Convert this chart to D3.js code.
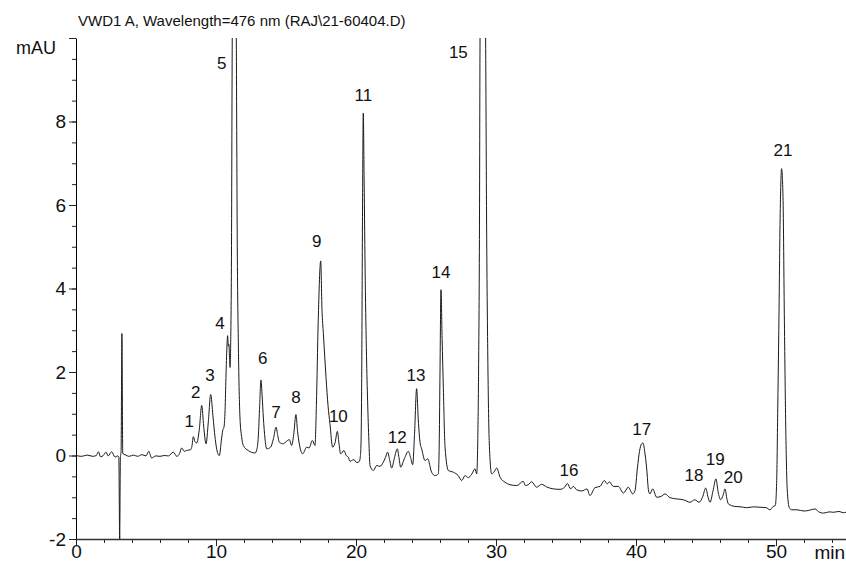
<!DOCTYPE html>
<html>
<head>
<meta charset="utf-8">
<script src="https://cdn.jsdelivr.net/npm/d3@7"></script>
<style>
body { margin: 0; background: #fff; }
text { font-family: "Liberation Sans", Arial, Helvetica, sans-serif; fill: #111; }
</style>
</head>
<body>
<svg width="846" height="564"></svg>
<script>
var title = "VWD1 A, Wavelength=476 nm (RAJ\\21-60404.D)";
var yUnit = "mAU", xUnit = "min";

var xMajor = [0, 10, 20, 30, 40, 50];
var yMajor = [-2, 0, 2, 4, 6, 8, 10];
var yLabelled = [-2, 0, 2, 4, 6, 8];

// peak numbers and where their labels sit (min, mAU)
var peakNo        = [1, 2, 3, 4, 5, 6, 7, 8, 9, 10, 11, 12, 13, 14, 15, 16, 17, 18, 19, 20, 21];
var peakLabelTime = [8.09, 8.55, 9.57, 10.29, 10.41, 13.34, 14.29, 15.71, 17.19, 18.74, 20.52, 22.95, 24.29, 26.07, 27.31, 35.21, 40.41, 44.14, 45.66, 46.95, 50.5];
var peakLabelMAU  = [0.83, 1.53, 1.93, 3.17, 9.41, 2.34, 1.04, 1.41, 5.14, 0.95, 8.63, 0.45, 1.93, 4.39, 9.67, -0.35, 0.63, -0.48, -0.08, -0.51, 7.32];

// detector trace: [time (min), signal (mAU)]
var trace = [
  [0.0, 0.0], [0.4, -0.02], [0.8, 0.01], [1.2, -0.02], [1.45, 0.0], [1.6, 0.09], [1.75, -0.03],
  [1.95, 0.0], [2.14, 0.08], [2.3, -0.01], [2.55, 0.09], [2.79, -0.04], [2.95, -0.01], [3.06, -0.04],
  [3.12, -2.0], [3.17, -0.05], [3.22, 0.1], [3.28, 2.92], [3.34, 0.05], [3.5, 0.02], [3.8, -0.02],
  [4.1, 0.01], [4.4, -0.02], [4.7, 0.02], [5.0, -0.01], [5.2, 0.1], [5.4, -0.06], [5.7, -0.01],
  [6.0, -0.02], [6.3, 0.0], [6.6, -0.01], [6.95, 0.08], [7.2, -0.02], [7.4, 0.05], [7.55, 0.18],
  [7.75, 0.1], [7.9, 0.12], [8.19, 0.14], [8.28, 0.22], [8.38, 0.45], [8.5, 0.33], [8.62, 0.3],
  [8.8, 0.6], [8.98, 1.2], [9.12, 0.7], [9.29, 0.28], [9.45, 0.8], [9.62, 1.46], [9.78, 0.95],
  [9.93, 0.44], [10.1, 0.08], [10.24, 0.0], [10.38, 0.35], [10.48, 0.6], [10.57, 0.68], [10.65, 1.1],
  [10.71, 1.87], [10.78, 2.6], [10.83, 2.87], [10.88, 2.62], [10.92, 2.66], [10.97, 2.3], [11.0, 2.11],
  [11.05, 2.7], [11.1, 4.5], [11.16, 10.0], [11.3, 15.0], [11.45, 10.0], [11.52, 5.0], [11.6, 2.6],
  [11.71, 0.92], [11.83, 0.45], [11.95, 0.24], [12.3, 0.12], [12.79, 0.06], [12.92, 0.15], [13.02, 0.44],
  [13.12, 1.2], [13.21, 1.81], [13.3, 1.4], [13.38, 0.92], [13.5, 0.4], [13.62, 0.16], [13.9, 0.2],
  [14.1, 0.4], [14.29, 0.68], [14.4, 0.5], [14.52, 0.32], [14.81, 0.28], [15.0, 0.33], [15.24, 0.38],
  [15.4, 0.24], [15.55, 0.5], [15.71, 0.98], [15.82, 0.6], [15.95, 0.28], [16.19, 0.04], [16.48, 0.2],
  [16.65, 0.18], [16.88, 0.36], [17.07, 0.24], [17.17, 1.2], [17.3, 3.2], [17.48, 4.66], [17.57, 3.5],
  [17.67, 2.92], [17.86, 1.87], [18.0, 1.2], [18.14, 0.76], [18.33, 0.2], [18.5, 0.3], [18.67, 0.58],
  [18.78, 0.3], [18.9, 0.04], [19.14, 0.12], [19.3, 0.0], [19.45, -0.04], [19.57, -0.14], [19.69, -0.12],
  [19.85, -0.1], [20.05, -0.17], [20.24, -0.14], [20.31, -0.02], [20.36, 0.3], [20.41, 2.0], [20.46, 5.5],
  [20.52, 8.2], [20.58, 6.6], [20.66, 4.2], [20.75, 2.4], [20.83, 1.3], [20.92, 0.35], [21.0, -0.24],
  [21.24, -0.36], [21.48, -0.24], [21.71, -0.26], [21.95, -0.16], [22.1, -0.05], [22.26, 0.08], [22.4, -0.1],
  [22.55, -0.3], [22.75, -0.05], [22.95, 0.16], [23.07, -0.05], [23.19, -0.28], [23.45, -0.08], [23.74, 0.1],
  [23.9, -0.05], [24.05, -0.22], [24.18, 0.5], [24.33, 1.6], [24.45, 0.85], [24.58, 0.3], [24.69, 0.16],
  [24.93, -0.12], [25.12, -0.08], [25.4, -0.4], [25.64, -0.48], [25.88, -0.44], [25.95, 0.4], [26.0, 2.0],
  [26.07, 3.97], [26.15, 2.8], [26.24, 1.6], [26.36, 0.2], [26.6, -0.36], [26.95, -0.4], [27.3, -0.48],
  [27.55, -0.6], [27.79, -0.48], [28.02, -0.53], [28.26, -0.45], [28.5, -0.32], [28.62, -0.44], [28.7, 0.4],
  [28.76, 2.2], [28.82, 5.5], [28.86, 10.0], [29.06, 16.0], [29.26, 10.0], [29.33, 5.5], [29.42, 2.2],
  [29.52, 0.3], [29.69, -0.44], [29.85, -0.4], [30.05, -0.3], [30.29, -0.52], [30.64, -0.64], [31.0, -0.7],
  [31.48, -0.72], [31.95, -0.62], [32.1, -0.72], [32.3, -0.7], [32.55, -0.63], [32.9, -0.76], [33.26, -0.69],
  [33.6, -0.75], [34.1, -0.8], [34.57, -0.81], [34.9, -0.76], [35.1, -0.67], [35.33, -0.8], [35.52, -0.74],
  [35.76, -0.82], [36.12, -0.85], [36.5, -0.8], [36.71, -0.96], [37.07, -0.77], [37.43, -0.74], [37.74, -0.6],
  [37.95, -0.68], [38.1, -0.63], [38.38, -0.74], [38.74, -0.74], [39.1, -0.9], [39.45, -0.76], [39.76, -0.92],
  [39.93, -0.84], [40.1, -0.3], [40.25, 0.1], [40.4, 0.28], [40.5, 0.3], [40.62, 0.1], [40.76, -0.3],
  [40.9, -0.85], [41.0, -0.92], [41.19, -0.8], [41.48, -1.0], [41.8, -0.98], [42.07, -0.92], [42.43, -1.01],
  [42.9, -1.04], [43.38, -1.06], [43.86, -1.12], [44.2, -1.06], [44.5, -1.12], [44.75, -1.0], [44.98, -0.78],
  [45.15, -1.0], [45.29, -1.12], [45.5, -0.85], [45.71, -0.56], [45.88, -0.9], [46.05, -1.06], [46.22, -0.95],
  [46.36, -0.8], [46.5, -1.05], [46.6, -1.16], [47.07, -1.22], [47.5, -1.23], [47.9, -1.25], [48.4, -1.23],
  [48.86, -1.24], [49.3, -1.25], [49.57, -1.3], [49.8, -1.22], [49.95, -1.2], [50.05, -0.6], [50.12, 1.0],
  [50.2, 3.0], [50.3, 5.8], [50.4, 6.87], [50.5, 6.2], [50.6, 3.2], [50.7, 0.6], [50.8, -0.8],
  [50.95, -1.25], [51.1, -1.3], [51.5, -1.3], [52.0, -1.33], [52.4, -1.31], [52.79, -1.28], [53.1, -1.36],
  [53.4, -1.38], [53.8, -1.35], [54.1, -1.36], [54.5, -1.34], [54.8, -1.37], [55.0, -1.36]
];

var svg = d3.select("svg");
var plotLeft = 76, plotRight = 846, plotTop = 38, plotBottom = 539;

var x = d3.scaleLinear().domain([0, 55]).range([plotLeft, plotRight]);
var y = d3.scaleLinear().domain([-2, 10]).range([plotBottom, plotTop]);

svg.append("clipPath").attr("id", "plot")
  .append("rect").attr("x", plotLeft).attr("y", plotTop)
    .attr("width", plotRight - plotLeft).attr("height", plotBottom - plotTop);

var line = d3.line()
  .x(function(d) { return x(d[0]); })
  .y(function(d) { return y(d[1]); })
  .curve(d3.curveMonotoneX);

svg.append("path")
  .datum(trace)
  .attr("clip-path", "url(#plot)")
  .attr("fill", "none")
  .attr("stroke", "#1a1a1a")
  .attr("stroke-width", 1)
  .attr("d", line);

// y axis: minor ticks every 0.5, major every 2
svg.append("g").attr("transform", "translate(" + plotLeft + ",0)")
  .call(d3.axisLeft(y).tickValues(d3.range(-2, 10.01, 0.5)).tickSize(4).tickFormat(""))
  .call(function(g) { g.select(".domain").remove(); });

var yAxis = svg.append("g").attr("transform", "translate(" + plotLeft + ",0)")
  .call(d3.axisLeft(y).tickValues(yMajor).tickSizeInner(7).tickSizeOuter(0).tickPadding(3)
    .tickFormat(function(d) { return yLabelled.indexOf(d) >= 0 ? d : ""; }));
yAxis.selectAll("text").style("font-size", "19px").attr("fill", "#111");

// x axis: minor ticks every 2 min, major every 10
svg.append("g").attr("transform", "translate(0," + plotBottom + ")")
  .call(d3.axisBottom(x).tickValues(d3.range(0, 55, 2)).tickSize(4).tickFormat(""))
  .call(function(g) { g.select(".domain").remove(); });

var xAxis = svg.append("g").attr("transform", "translate(0," + plotBottom + ")")
  .call(d3.axisBottom(x).tickValues(xMajor).tickSizeInner(7).tickSizeOuter(0).tickFormat(d3.format("d")));
xAxis.selectAll("text").style("font-size", "19px").attr("y", 6).attr("fill", "#111");
xAxis.select(".domain").attr("stroke", "#333").attr("stroke-width", 1.5);

svg.selectAll(".tick line").attr("stroke", "#222");

svg.append("text").attr("x", 78).attr("y", 26).style("font-size", "15px").text(title);
svg.append("text").attr("x", 56).attr("y", 54).attr("text-anchor", "end").style("font-size", "18px").text(yUnit);
svg.append("text").attr("x", 845).attr("y", 559).attr("text-anchor", "end").style("font-size", "19px").text(xUnit);

svg.append("g").selectAll("text")
  .data(peakNo)
  .enter().append("text")
    .attr("x", function(d, i) { return x(peakLabelTime[i]); })
    .attr("y", function(d, i) { return y(peakLabelMAU[i]); })
    .attr("dy", "0.35em")
    .attr("text-anchor", "middle")
    .style("font-size", "17px")
    .text(function(d) { return d; });
</script>
</body>
</html>
